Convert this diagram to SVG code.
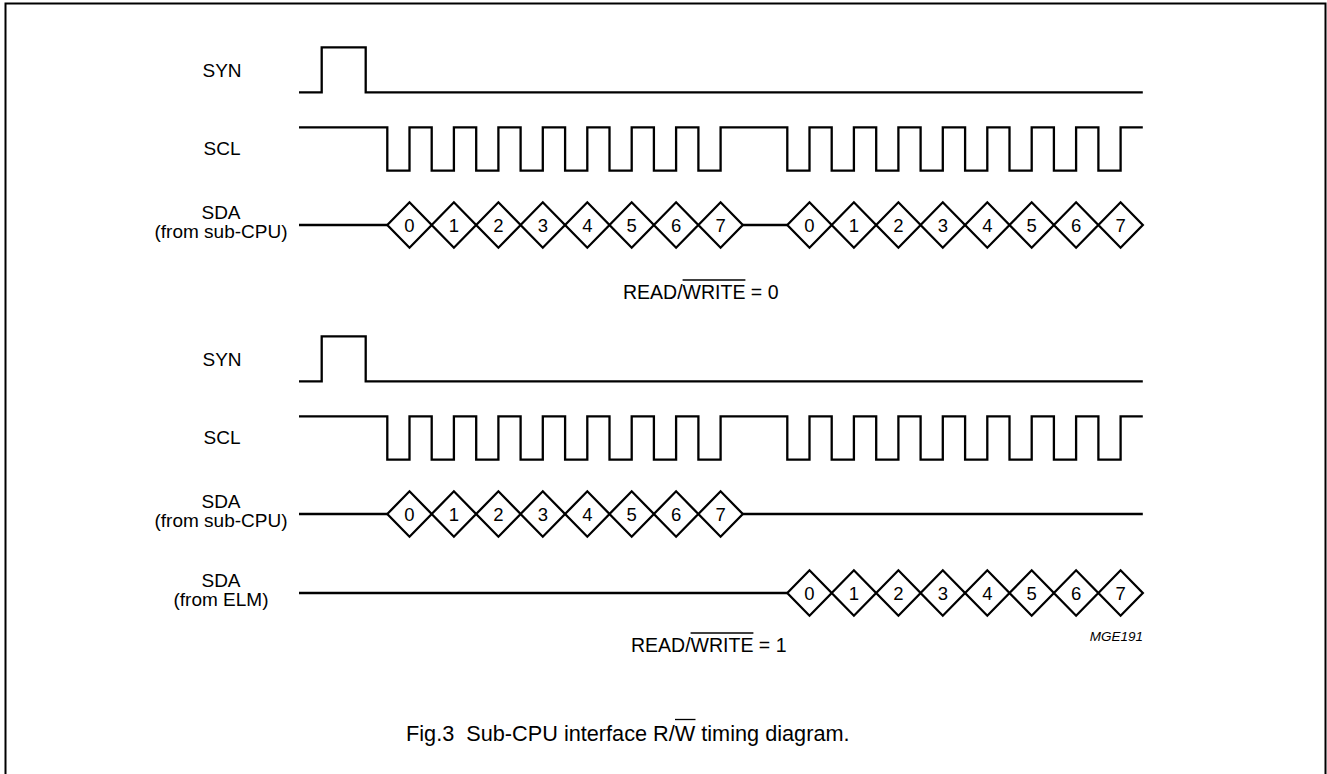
<svg xmlns="http://www.w3.org/2000/svg" xmlns:xlink="http://www.w3.org/1999/xlink" width="1327" height="774" viewBox="0 0 1327 774">
<style>
  .wave { fill: none; stroke: #000; stroke-width: 2.3; stroke-linejoin: miter; stroke-linecap: butt; }
  .dia { fill: #fff; stroke: #000; stroke-width: 2.3; }
  .lbl { font-family: "Liberation Sans", Arial, sans-serif; font-size: 19px; fill: #000; text-anchor: middle; }
  .dig { font-family: "Liberation Sans", Arial, sans-serif; font-size: 18.5px; fill: #000; text-anchor: middle; }
  .rw { font-family: "Liberation Sans", Arial, sans-serif; font-size: 19.5px; fill: #000; }
  .ovl { stroke: #000; stroke-width: 1.3; }
  .code { font-family: "Liberation Sans", Arial, sans-serif; font-size: 13.5px; font-style: italic; fill: #000; text-anchor: end; }
  .cap { font-family: "Liberation Sans", Arial, sans-serif; font-size: 21.7px; fill: #000; }
</style>
<defs>
  <path id="d" class="dia" d="M-22.22,0 L0,-22.7 L22.22,0 L0,22.7 Z"/>
</defs>
<rect x="0" y="0" width="1327" height="774" fill="#fff"/>
<rect x="5.5" y="3.5" width="1320" height="780" fill="none" stroke="#000" stroke-width="2"/>

<g id="labels-top">
  <text class="lbl" x="222" y="77">SYN</text>
  <text class="lbl" x="222" y="155">SCL</text>
  <text class="lbl" x="221" y="219">SDA</text>
  <text class="lbl" x="221" y="238">(from sub-CPU)</text>
</g>

<g id="connectors">
  <path class="wave" d="M299,92.3 H321.7 V47.3 H365.7 V92.3 H1142.8"/>
  <path class="wave" d="M299,127.3 H387.3 V170.7 H409.5 V127.3 H431.7 V170.7 H453.9 V127.3 H476.2 V170.7 H498.4 V127.3 H520.6 V170.7 H542.8 V127.3 H565.1 V170.7 H587.3 V127.3 H609.5 V170.7 H631.7 V127.3 H653.9 V170.7 H676.1 V127.3 H698.4 V170.7 H720.6 V127.3 H787.3 V170.7 H809.5 V127.3 H831.7 V170.7 H853.9 V127.3 H876.2 V170.7 H898.4 V127.3 H920.6 V170.7 H942.8 V127.3 H965.1 V170.7 H987.3 V127.3 H1009.5 V170.7 H1031.7 V127.3 H1053.9 V170.7 H1076.1 V127.3 H1098.4 V170.7 H1120.6 V127.3 H1142.8"/>
  <path class="wave" d="M299,225 H387.3 M742.8,225 H787.3"/>
  <path class="wave" d="M299,381.3 H321.7 V336.3 H365.7 V381.3 H1142.8"/>
  <path class="wave" d="M299,416.3 H387.3 V459.7 H409.5 V416.3 H431.7 V459.7 H453.9 V416.3 H476.2 V459.7 H498.4 V416.3 H520.6 V459.7 H542.8 V416.3 H565.1 V459.7 H587.3 V416.3 H609.5 V459.7 H631.7 V416.3 H653.9 V459.7 H676.1 V416.3 H698.4 V459.7 H720.6 V416.3 H787.3 V459.7 H809.5 V416.3 H831.7 V459.7 H853.9 V416.3 H876.2 V459.7 H898.4 V416.3 H920.6 V459.7 H942.8 V416.3 H965.1 V459.7 H987.3 V416.3 H1009.5 V459.7 H1031.7 V416.3 H1053.9 V459.7 H1076.1 V416.3 H1098.4 V459.7 H1120.6 V416.3 H1142.8"/>
  <path class="wave" d="M299,514 H387.3 M742.8,514 H1142.8"/>
  <path class="wave" d="M299,593 H787.3"/>
</g>

<g id="sda-top-1">
  <use xlink:href="#d" x="409.5" y="225"/><use xlink:href="#d" x="453.9" y="225"/>
  <use xlink:href="#d" x="498.4" y="225"/><use xlink:href="#d" x="542.8" y="225"/>
  <use xlink:href="#d" x="587.3" y="225"/><use xlink:href="#d" x="631.7" y="225"/>
  <use xlink:href="#d" x="676.1" y="225"/><use xlink:href="#d" x="720.6" y="225"/>
  <text class="dig" x="409.5" y="231.6">0</text><text class="dig" x="453.9" y="231.6">1</text>
  <text class="dig" x="498.4" y="231.6">2</text><text class="dig" x="542.8" y="231.6">3</text>
  <text class="dig" x="587.3" y="231.6">4</text><text class="dig" x="631.7" y="231.6">5</text>
  <text class="dig" x="676.1" y="231.6">6</text><text class="dig" x="720.6" y="231.6">7</text>
</g>
<g id="sda-top-2">
  <use xlink:href="#d" x="809.5" y="225"/><use xlink:href="#d" x="853.9" y="225"/>
  <use xlink:href="#d" x="898.4" y="225"/><use xlink:href="#d" x="942.8" y="225"/>
  <use xlink:href="#d" x="987.3" y="225"/><use xlink:href="#d" x="1031.7" y="225"/>
  <use xlink:href="#d" x="1076.1" y="225"/><use xlink:href="#d" x="1120.6" y="225"/>
  <text class="dig" x="809.5" y="231.6">0</text><text class="dig" x="853.9" y="231.6">1</text>
  <text class="dig" x="898.4" y="231.6">2</text><text class="dig" x="942.8" y="231.6">3</text>
  <text class="dig" x="987.3" y="231.6">4</text><text class="dig" x="1031.7" y="231.6">5</text>
  <text class="dig" x="1076.1" y="231.6">6</text><text class="dig" x="1120.6" y="231.6">7</text>
</g>

<g id="rw0">
  <text class="rw" x="623" y="299">READ/WRITE = 0</text>
  <line class="ovl" x1="682.6" y1="280" x2="745.4" y2="280"/>
</g>

<g id="labels-bottom">
  <text class="lbl" x="222" y="366">SYN</text>
  <text class="lbl" x="222" y="444">SCL</text>
  <text class="lbl" x="221" y="508">SDA</text>
  <text class="lbl" x="221" y="527">(from sub-CPU)</text>
  <text class="lbl" x="221" y="587">SDA</text>
  <text class="lbl" x="221" y="606">(from ELM)</text>
</g>

<g id="sda-bottom-cpu">
  <use xlink:href="#d" x="409.5" y="514"/><use xlink:href="#d" x="453.9" y="514"/>
  <use xlink:href="#d" x="498.4" y="514"/><use xlink:href="#d" x="542.8" y="514"/>
  <use xlink:href="#d" x="587.3" y="514"/><use xlink:href="#d" x="631.7" y="514"/>
  <use xlink:href="#d" x="676.1" y="514"/><use xlink:href="#d" x="720.6" y="514"/>
  <text class="dig" x="409.5" y="520.6">0</text><text class="dig" x="453.9" y="520.6">1</text>
  <text class="dig" x="498.4" y="520.6">2</text><text class="dig" x="542.8" y="520.6">3</text>
  <text class="dig" x="587.3" y="520.6">4</text><text class="dig" x="631.7" y="520.6">5</text>
  <text class="dig" x="676.1" y="520.6">6</text><text class="dig" x="720.6" y="520.6">7</text>
</g>
<g id="sda-bottom-elm">
  <use xlink:href="#d" x="809.5" y="593"/><use xlink:href="#d" x="853.9" y="593"/>
  <use xlink:href="#d" x="898.4" y="593"/><use xlink:href="#d" x="942.8" y="593"/>
  <use xlink:href="#d" x="987.3" y="593"/><use xlink:href="#d" x="1031.7" y="593"/>
  <use xlink:href="#d" x="1076.1" y="593"/><use xlink:href="#d" x="1120.6" y="593"/>
  <text class="dig" x="809.5" y="599.6">0</text><text class="dig" x="853.9" y="599.6">1</text>
  <text class="dig" x="898.4" y="599.6">2</text><text class="dig" x="942.8" y="599.6">3</text>
  <text class="dig" x="987.3" y="599.6">4</text><text class="dig" x="1031.7" y="599.6">5</text>
  <text class="dig" x="1076.1" y="599.6">6</text><text class="dig" x="1120.6" y="599.6">7</text>
</g>

<g id="rw1">
  <text class="rw" x="631" y="652">READ/WRITE = 1</text>
  <line class="ovl" x1="690.6" y1="633" x2="753.4" y2="633"/>
</g>

<g id="code">
  <text class="code" x="1143" y="641">MGE191</text>
</g>

<g id="caption">
  <text class="cap" x="406" y="741" xml:space="preserve">Fig.3  Sub-CPU interface R/W timing diagram.</text>
  <line class="ovl" x1="675" y1="719.5" x2="695.5" y2="719.5"/>
</g>
</svg>
